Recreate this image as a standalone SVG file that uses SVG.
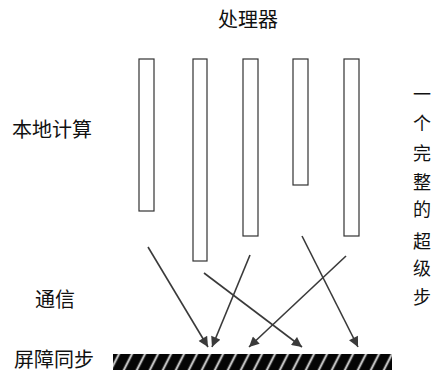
<svg xmlns="http://www.w3.org/2000/svg" width="433" height="371" viewBox="0 0 433 371">
<style>
.t{font-family:"Liberation Serif","Noto Sans CJK SC",serif;font-size:20px;fill:#111;}
.v{font-family:"Liberation Serif","Noto Sans CJK SC",serif;font-size:18px;fill:#111;text-anchor:middle;}
.p{fill:#fff;stroke:#333;stroke-width:1.2;}
.c{stroke:#3a3a3a;stroke-width:1.6;fill:none;marker-end:url(#ah);}
</style>
<defs>
<marker id="ah" viewBox="0 0 10 10" refX="10" refY="5" markerWidth="12" markerHeight="10" markerUnits="userSpaceOnUse" orient="auto">
<path d="M0,0 L10,5 L0,10 z" fill="#3a3a3a"/>
</marker>
<pattern id="hatch" patternUnits="userSpaceOnUse" width="13" height="16" patternTransform="translate(113,354) skewX(-27)">
<rect width="13" height="16" fill="#050505"/>
<rect x="4.5" y="0" width="3" height="16" fill="#666"/>
<rect x="5.3" y="0" width="1.4" height="16" fill="#e8e8e8"/>
</pattern>
</defs>
<text class="t" x="248" y="27" text-anchor="middle">处理器</text>
<text class="t" x="12" y="137">本地计算</text>
<text class="t" x="35" y="307">通信</text>
<text class="t" x="14" y="367">屏障同步</text>
<g id="label-superstep">
<text class="v" x="422" y="101">一</text>
<text class="v" x="422" y="130">个</text>
<text class="v" x="422" y="160">完</text>
<text class="v" x="422" y="189">整</text>
<text class="v" x="422" y="216">的</text>
<text class="v" x="422" y="248">超</text>
<text class="v" x="422" y="275">级</text>
<text class="v" x="422" y="304">步</text>
</g>
<g id="p1"><rect class="p" x="139" y="59" width="15" height="152"/></g>
<g id="p2"><rect class="p" x="193" y="59" width="14" height="202"/></g>
<g id="p3"><rect class="p" x="243" y="59" width="15" height="177"/></g>
<g id="p4"><rect class="p" x="293" y="59" width="15" height="126"/></g>
<g id="p5"><rect class="p" x="344" y="59" width="15" height="177"/></g>
<g id="barrier"><rect x="113" y="354" width="279" height="16" fill="url(#hatch)"/></g>
<g id="connectors">
<line class="c" x1="148" y1="247" x2="208" y2="347"/>
<line class="c" x1="250" y1="255" x2="212" y2="347"/>
<line class="c" x1="204" y1="273" x2="302" y2="347"/>
<line class="c" x1="302" y1="236" x2="358" y2="347"/>
<line class="c" x1="346" y1="256" x2="249" y2="347"/>
</g>
</svg>
